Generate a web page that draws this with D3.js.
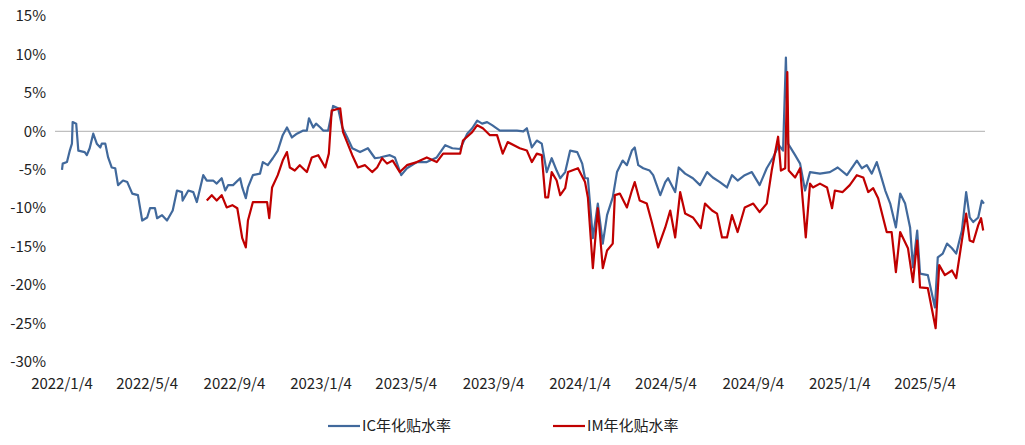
<!DOCTYPE html>
<html><head><meta charset="utf-8">
<script src="https://cdn.jsdelivr.net/npm/d3@7/dist/d3.min.js"></script>
<style>body{margin:0;background:#fff}svg{font-family:"Noto Sans CJK SC","Noto Sans",sans-serif}</style>
</head><body><svg id="c" width="1025" height="445"></svg>
<script>
// day offsets from 2022-01-04, values in %
const icDays=[0,1,7,11,14,15,20,23,32,35,39,44,49,54,56,61,65,70,75,79,86,92,99,107,113,120,124,131,134,141,148,156,162,169,170,178,185,190,199,204,213,218,225,230,234,241,251,254,259,262,269,279,283,290,297,304,311,317,324,331,340,345,348,354,358,364,368,375,382,389,395,402,409,420,431,441,448,452,462,469,478,486,500,514,528,540,550,561,571,578,585,592,599,606,617,627,641,650,655,662,669,676,683,690,697,702,709,716,726,733,737,741,748,755,762,768,776,782,790,796,803,807,812,819,828,833,843,850,854,864,869,878,889,899,909,917,927,937,944,952,962,972,983,993,1002,1010,1016,1020,1023,1033,1040,1047,1054,1068,1082,1093,1106,1120,1127,1134,1141,1148,1153,1160,1167,1175,1181,1188,1195,1199,1205,1209,1220,1230,1234,1241,1247,1254,1260,1268,1274,1279,1284,1291,1296,1299];
const icVals=[-5.0,-4.2,-4.0,-2.5,-1.6,1.2,1.0,-2.5,-2.7,-3.1,-2.2,-0.3,-1.6,-2.1,-1.6,-1.6,-3.4,-4.7,-4.8,-7.0,-6.4,-6.6,-8.1,-8.3,-11.6,-11.2,-10.0,-10.0,-11.3,-10.9,-11.6,-10.3,-7.7,-7.9,-9.0,-7.7,-7.9,-9.2,-5.7,-6.4,-6.4,-6.8,-6.1,-7.7,-7.0,-7.0,-6.1,-7.3,-8.7,-7.3,-5.7,-5.5,-4.0,-4.4,-3.5,-2.5,-0.5,0.5,-0.8,-0.3,0.1,0.1,1.7,0.5,1.0,0.5,0.1,0.1,3.3,3.0,0.5,-0.8,-2.2,-2.7,-2.2,-3.5,-3.4,-3.3,-3.1,-3.4,-5.7,-4.8,-4.0,-4.0,-3.4,-1.8,-2.2,-2.3,-0.3,0.4,1.4,1.0,1.2,0.8,0.1,0.1,0.1,0.0,0.4,-2.1,-1.2,-1.6,-5.3,-3.5,-5.1,-6.1,-5.3,-2.5,-2.7,-4.2,-6.1,-6.1,-13.9,-9.4,-14.6,-10.9,-8.6,-5.3,-3.8,-4.4,-2.5,-2.1,-4.4,-4.8,-5.1,-5.7,-8.3,-6.6,-6.1,-7.9,-4.7,-5.5,-6.1,-7.0,-5.3,-6.0,-6.6,-7.3,-5.7,-6.4,-5.7,-5.3,-7.0,-4.8,-3.4,-1.8,-2.5,9.6,-1.6,-3.1,-4.2,-7.7,-5.3,-5.5,-5.3,-4.7,-5.7,-3.8,-4.8,-4.4,-5.5,-4.0,-5.5,-7.7,-9.4,-12.5,-8.1,-9.4,-12.5,-17.7,-12.9,-18.5,-18.7,-22.9,-16.4,-15.9,-14.6,-15.2,-15.9,-12.9,-7.9,-11.2,-11.8,-11.2,-9.0,-9.4];
const imDays=[204,211,218,225,232,240,247,254,259,262,269,289,292,296,304,311,317,321,328,335,345,352,361,371,376,380,392,396,409,417,427,437,444,451,458,466,476,486,500,514,528,537,547,561,565,578,585,593,603,613,621,628,645,655,662,669,676,681,685,690,697,702,709,713,727,737,741,748,755,762,768,776,779,786,796,803,807,814,824,831,840,850,857,864,871,878,889,900,906,916,923,930,937,944,952,962,974,983,993,1000,1009,1013,1019,1022,1024,1033,1040,1048,1054,1058,1068,1078,1085,1089,1100,1110,1120,1129,1136,1143,1150,1162,1169,1175,1181,1192,1199,1205,1209,1220,1231,1236,1244,1254,1260,1268,1274,1279,1284,1291,1295,1298];
const imVals=[-9.0,-8.3,-9.0,-8.3,-9.9,-9.6,-10.0,-13.9,-15.1,-11.6,-9.2,-9.2,-11.3,-7.3,-5.7,-3.8,-2.7,-4.7,-5.1,-4.4,-5.3,-3.4,-3.1,-4.7,-2.9,2.7,3.0,-0.1,-3.1,-4.7,-4.4,-5.3,-4.7,-3.5,-4.2,-3.8,-5.3,-4.4,-4.0,-3.4,-4.0,-2.9,-2.9,-2.9,-1.2,-0.1,0.8,0.4,-0.5,-0.5,-2.9,-1.4,-2.2,-2.5,-4.0,-2.9,-3.1,-8.6,-8.6,-5.3,-6.4,-8.3,-7.4,-5.3,-4.8,-6.6,-8.6,-17.8,-10.0,-17.8,-15.5,-14.6,-8.3,-8.1,-9.9,-7.7,-6.6,-9.0,-9.4,-11.8,-15.1,-12.5,-10.3,-13.8,-7.9,-10.7,-11.2,-12.6,-9.4,-10.3,-10.7,-13.8,-13.8,-10.9,-13.1,-9.9,-9.4,-10.5,-9.4,-5.1,-0.7,-5.1,-4.8,7.7,-5.1,-6.0,-4.8,-13.8,-6.8,-7.3,-6.8,-7.3,-10.0,-7.7,-7.9,-7.0,-5.7,-6.0,-7.9,-7.4,-8.7,-13.1,-13.1,-18.3,-13.1,-15.2,-19.6,-14.2,-20.3,-20.4,-25.6,-17.4,-18.7,-18.1,-19.1,-14.2,-10.7,-14.2,-14.4,-12.2,-11.3,-12.9];
const yTicks=[15,10,5,0,-5,-10,-15,-20,-25,-30];
const xTickLabels=["2022/1/4","2022/5/4","2022/9/4","2023/1/4","2023/5/4","2023/9/4","2024/1/4","2024/5/4","2024/9/4","2025/1/4","2025/5/4"];
const seriesNames=["IC年化贴水率","IM年化贴水率"];
const colors=["#41699c","#c00000"];

const parse=d3.timeParse("%Y/%-m/%-d");
const start=parse("2022/1/4");
const toDate=n=>d3.timeDay.offset(start,n);
const svg=d3.select("#c");
const x=d3.scaleTime().domain([start,parse("2025/5/4")]).range([62,925]);
const y=d3.scaleLinear().domain([-30,15]).range([362,16]);

svg.append("g").selectAll("text").data(yTicks).join("text")
 .attr("x",46).attr("y",d=>y(d)).attr("dy","0.35em").attr("text-anchor","end")
 .attr("font-size",15).attr("fill","#222").text(d=>d+"%");
svg.append("g").selectAll("text").data(xTickLabels).join("text")
 .attr("x",d=>x(parse(d))).attr("y",389).attr("text-anchor","middle")
 .attr("font-size",15).attr("fill","#222").text(d=>d);
svg.append("line").attr("x1",55).attr("x2",985).attr("y1",y(0)).attr("y2",y(0))
 .attr("stroke","#bfbfbf").attr("stroke-width",1.3);

const line=d3.line().x(d=>x(toDate(d[0]))).y(d=>y(d[1]));
const series=[d3.zip(icDays,icVals),d3.zip(imDays,imVals)];
series.forEach((s,i)=>{
 svg.append("path").datum(s).attr("d",line).attr("fill","none")
  .attr("stroke",colors[i]).attr("stroke-width",2.2).attr("stroke-linejoin","round");
});

const lg=svg.append("g");
[328,553].forEach((lx,i)=>{
 lg.append("line").attr("x1",lx).attr("x2",lx+32).attr("y1",426).attr("y2",426).attr("stroke",colors[i]).attr("stroke-width",2.2);
 lg.append("text").attr("x",lx+34).attr("y",426).attr("dy","0.35em").attr("font-size",15).attr("fill","#222").text(seriesNames[i]);
});
</script></body></html>
